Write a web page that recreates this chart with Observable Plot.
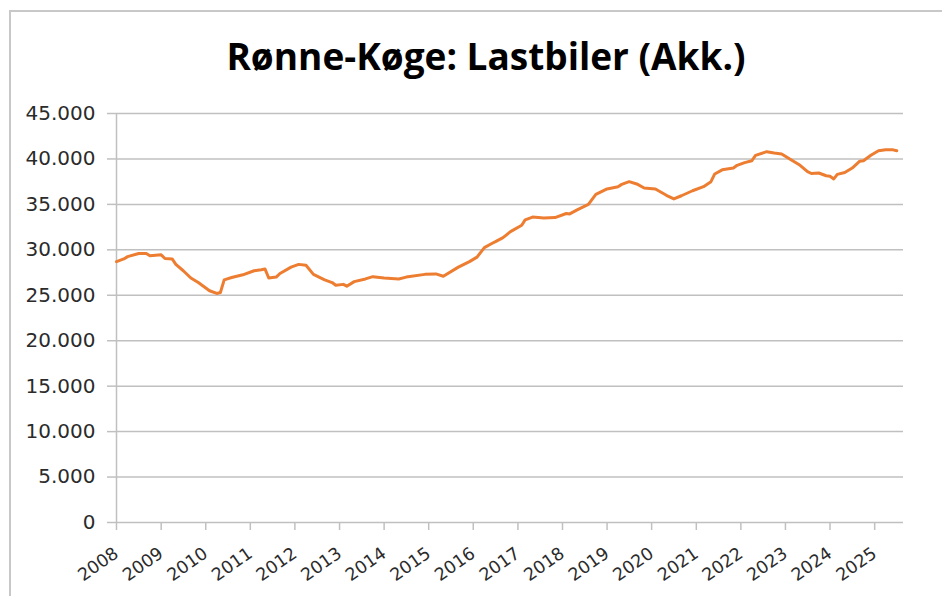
<!DOCTYPE html>
<html>
<head>
<meta charset="utf-8">
<script src="https://cdn.jsdelivr.net/npm/d3@7"></script>
<script src="https://cdn.jsdelivr.net/npm/@observablehq/plot@0.6"></script>
<style>
  html, body { margin: 0; padding: 0; background: #fff; width: 942px; height: 596px; overflow: hidden; }
  #frame { position: absolute; left: 9px; top: 10px; width: 1000px; height: 700px;
           border-top: 2px solid #c8c8c8; border-left: 2px solid #c8c8c8; }
  #title { position: absolute; left: 0; width: 972px; top: 34px; text-align: center;
           font-family: "Liberation Sans Narrow", "Open Sans", sans-serif; font-weight: 700;
           font-size: 37px; line-height: 44px; color: #000; }
  #chart { position: absolute; left: 0; top: 90px; }
</style>
</head>
<body>
<div id="frame"></div>
<div id="title">Rønne-Køge: Lastbiler (Akk.)</div>
<div id="chart"></div>
<script>
const dates = [
  "2008-01","2008-03","2008-04","2008-07","2008-09","2008-10","2009-01","2009-02","2009-04","2009-05",
  "2009-07","2009-09","2009-11","2010-02","2010-04","2010-05","2010-06","2010-08","2010-11","2011-02",
  "2011-04","2011-05","2011-06","2011-08","2011-09","2011-12","2012-02","2012-04","2012-06","2012-09",
  "2012-11","2012-12","2013-02","2013-03","2013-05","2013-08","2013-10","2014-01","2014-05","2014-07",
  "2014-12","2015-03","2015-05","2015-09","2015-12","2016-02","2016-04","2016-06","2016-07","2016-09",
  "2016-11","2017-02","2017-03","2017-05","2017-08","2017-11","2018-02","2018-03","2018-05","2018-08",
  "2018-10","2019-01","2019-04","2019-05","2019-07","2019-09","2019-11","2020-02","2020-05","2020-07",
  "2020-09","2020-12","2021-03","2021-05","2021-06","2021-08","2021-11","2021-12","2022-02","2022-04",
  "2022-05","2022-08","2022-10","2022-12","2023-03","2023-05","2023-07","2023-08","2023-10","2023-12",
  "2024-01","2024-02","2024-03","2024-05","2024-07","2024-09","2024-10","2024-12","2025-02","2025-04",
  "2025-06","2025-07"
];
const values = [
  28700,29000,29250,29600,29600,29350,29450,29050,29000,28400,
  27700,26900,26400,25500,25200,25300,26700,26950,27250,27700,
  27800,27900,26900,27000,27400,28100,28400,28300,27300,26700,
  26400,26100,26200,26000,26500,26800,27050,26900,26800,27000,
  27300,27350,27100,28100,28700,29200,30250,30700,30900,31350,
  32000,32700,33300,33600,33500,33550,34000,33950,34400,35000,
  36100,36700,36950,37200,37500,37250,36800,36700,36000,35600,
  35950,36500,36950,37500,38350,38800,39000,39300,39600,39800,
  40400,40800,40650,40550,39800,39300,38600,38400,38450,38150,
  38100,37800,38300,38500,39000,39750,39800,40400,40900,41000,
  41000,40900
];
const yTicks = [0,5000,10000,15000,20000,25000,30000,35000,40000,45000];
const years = [2008,2009,2010,2011,2012,2013,2014,2015,2016,2017,2018,2019,2020,2021,2022,2023,2024,2025];

const data = dates.map((d, i) => ({date: new Date(+d.slice(0, 4), +d.slice(5, 7) - 1, 1), value: values[i]}));
const yearDates = years.map(y => new Date(y, 0, 1));
const dk = d3.formatLocale({decimal: ",", thousands: ".", grouping: [3], currency: ["", " kr."]});
const fmt = dk.format(",");
const xStart = new Date(2008, 0, 1), xEnd = new Date(2025, 7, 25);
const grid = "#c0c0c0";
const textColor = "#2b2b2b";

const chart = Plot.plot({
  width: 942,
  height: 506,
  marginTop: 23,
  marginBottom: 74,
  marginLeft: 116,
  marginRight: 39,
  style: {fontFamily: "DejaVu Sans, sans-serif", fontSize: "19px", color: textColor, background: "transparent"},
  x: {type: "time", domain: [xStart, xEnd]},
  y: {domain: [0, 45000]},
  marks: [
    Plot.gridY(yTicks, {stroke: grid, strokeOpacity: 1, strokeWidth: 1.5}),
    Plot.axisY(yTicks, {tickSize: 9, tickPadding: 12, stroke: grid, strokeWidth: 1.5, fill: textColor, fontSize: 20, tickFormat: fmt, label: null}),
    Plot.ruleX([xStart], {y1: 0, y2: 45000, stroke: grid, strokeWidth: 1.5}),
    Plot.axisX(yearDates, {tickSize: 8, tickPadding: 21, tickRotate: -35, stroke: grid, strokeWidth: 1.5, fill: textColor, fontSize: 17.5, tickFormat: d3.timeFormat("%Y"), label: null}),
    Plot.line(data, {x: "date", y: "value", stroke: "#ED7D31", strokeWidth: 3, strokeLinejoin: "round"})
  ]
});
document.getElementById("chart").appendChild(chart);
</script>
</body>
</html>
